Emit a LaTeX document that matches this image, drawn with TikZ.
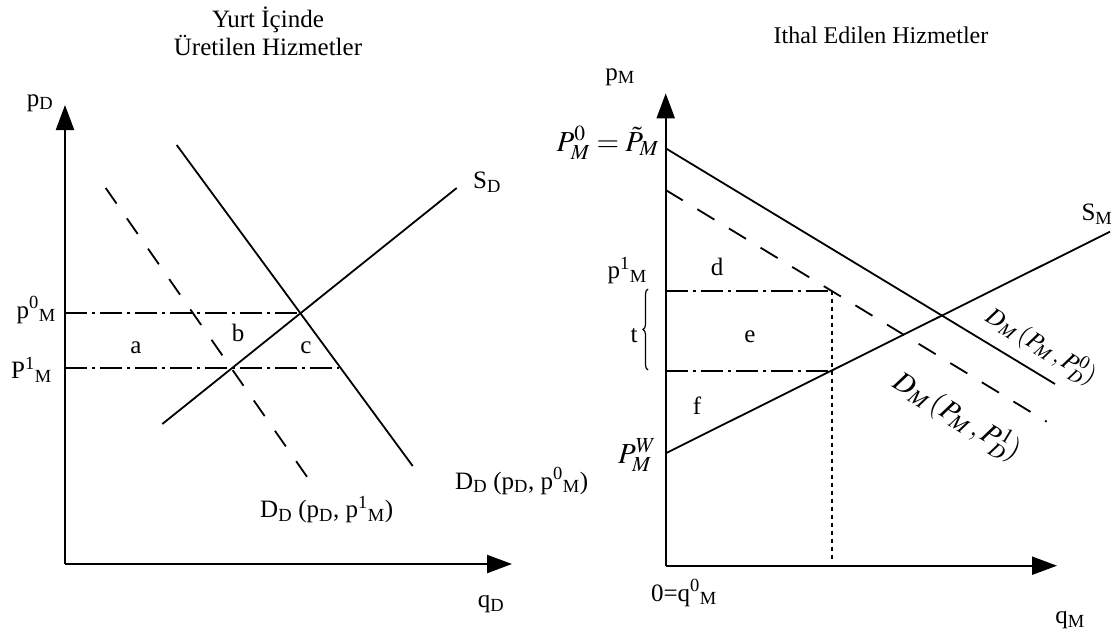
\documentclass[tikz,border=0pt]{standalone}
\usepackage{mathptmx}
\usepackage{fontspec}
\setmainfont{Liberation Serif}
\usetikzlibrary{arrows.meta,decorations.pathreplacing}
\tikzset{
  lab/.style={inner sep=0pt,font=\fontsize{25}{28}\selectfont},
  mlab/.style={inner sep=0pt,font=\fontsize{29}{32}\selectfont},
  axis/.style={line width=2.2pt,-{Triangle[length=25pt,width=18pt]}},
  curve/.style={line width=1.8pt},
  dashcurve/.style={line width=1.8pt,dash pattern=on 19pt off 18pt},
  dashdot/.style={line width=1.7pt,dash pattern=on 22pt off 5pt on 3pt off 5pt},
  dotline/.style={line width=1.7pt,dash pattern=on 4pt off 4pt},
}
\begin{document}
\begin{tikzpicture}[x=1pt,y=-1pt]
\useasboundingbox (0,0) rectangle (1118,635);
% ---------- left panel ----------
\node[lab,align=center] (tl) at (268,31) {Yurt İçinde\\Üretilen Hizmetler};
\coordinate (lo) at (65,564);
\coordinate (ly) at (65,105);
\coordinate (lx) at (512,564);
\draw[axis] (lo) -- (ly);
\draw[axis] (lo) -- (lx);
\node[lab] (pD) at (40,103) {p\textsubscript{D}};
\node[lab] (qD) at (491,604) {q\textsubscript{D}};
% curves
\coordinate (sd1) at (162.3,424);
\coordinate (sd2) at (456.7,188);
\draw[curve] (sd1) -- (sd2);
\node[lab] (SD) at (487,182) {S\textsubscript{D}};
\coordinate (dd1) at (176.7,145);
\coordinate (dd2) at (412.7,466);
\draw[curve] (dd1) -- (dd2);
\coordinate (dl1) at (105.7,188);
\coordinate (dl2) at (316.7,490.7);
\draw[dashcurve] (dl1) -- (dl2);
% price lines
\coordinate (p0a) at (65,312.7);
\coordinate (p0b) at (300,312.7);
\coordinate (p1a) at (65,367.7);
\coordinate (p1b) at (339,367.7);
\draw[dashdot] (p0a) -- (p0b);
\draw[dashdot] (p1a) -- (p1b);
\node[lab,anchor=east] (p0M) at (56,310) {p\textsuperscript{0}\textsubscript{M}};
\node[lab,anchor=east] (P1M) at (52,370) {P\textsuperscript{1}\textsubscript{M}};
\node[lab] (a) at (136,348) {a};
\node[lab] (b) at (238,333) {b};
\node[lab] (c) at (306,348) {c};
\node[lab,anchor=west] (DD0) at (455,481) {D\textsubscript{D} (p\textsubscript{D}, p\textsuperscript{0}\textsubscript{M})};
\node[lab,anchor=west] (DD1) at (260,510) {D\textsubscript{D} (p\textsubscript{D}, p\textsuperscript{1}\textsubscript{M})};
% ---------- right panel ----------
\node[lab,font=\fontsize{24}{28}\selectfont] (tr) at (881,35) {Ithal Edilen Hizmetler};
\coordinate (ro) at (665.7,565.7);
\coordinate (ry) at (665.7,93.3);
\coordinate (rx) at (1057,565.7);
\draw[axis] (ro) -- (ry);
\draw[axis] (ro) -- (rx);
\node[lab] (pM) at (620,77) {p\textsubscript{M}};
\node[lab] (qM) at (1070,620) {q\textsubscript{M}};
\node[lab] (zero) at (684,593) {0=q\textsuperscript{0}\textsubscript{M}};
% supply
\coordinate (sm1) at (665.7,453.3);
\coordinate (sm2) at (1110,231.7);
\draw[curve] (sm1) -- (sm2);
\node[lab] (SM) at (1097,214) {S\textsubscript{M}};
% demand
\coordinate (dm1) at (665.7,148.3);
\coordinate (dm2) at (1055,384);
\draw[curve] (dm1) -- (dm2);
\coordinate (dn1) at (665.7,190);
\coordinate (dn2) at (1046.7,421.7);
\draw[dashcurve,dash pattern=on 20pt off 17pt] (dn1) -- (dn2);
% price lines
\coordinate (q1a) at (665.7,290.7);
\coordinate (q1b) at (831.7,290.7);
\coordinate (qwa) at (665.7,370.7);
\coordinate (qwb) at (830,370.7);
\coordinate (vb) at (831.7,562);
\draw[dashdot] (q1a) -- (q1b);
\draw[dashdot] (qwa) -- (qwb);
\draw[dotline] (q1b) -- (vb);
% brace
\coordinate (br1) at (648,370);
\coordinate (br2) at (648,289);
\draw[line width=1.2pt,decorate,decoration={brace,amplitude=5pt}] (br1) -- (br2);
\node[lab] (t) at (634,336) {t};
\node[lab] (d) at (717,267) {d};
\node[lab] (e) at (750,337) {e};
\node[lab] (f) at (697,406) {f};
\node[lab,anchor=east] (p1Mr) at (647,271) {p\textsuperscript{1}\textsubscript{M}};
\node[mlab,anchor=east] (Ptil) at (659,143) {$P_M^0=\tilde{P}_M$};
\node[mlab,anchor=east] (PW) at (656,455) {$P_M^W$};
\node[lab,rotate=-31] (DM0) at (1041,346) {$D_M\,(P_M\,,P_D^0)$};
\node[mlab,rotate=-31] (DM1) at (957,416) {$D_M\,(P_M\,,P_D^1)$};
\end{tikzpicture}
\end{document}
